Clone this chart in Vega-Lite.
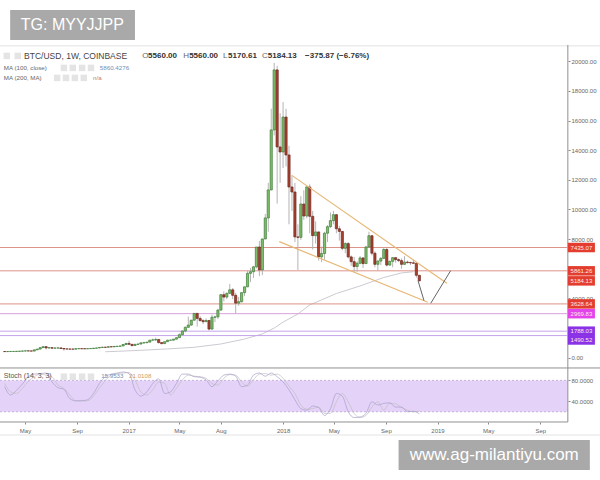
{
  "$schema": "https://vega.github.io/schema/vega-lite/v6.json",
  "width": 600,
  "height": 480,
  "padding": 0,
  "autosize": {"type": "none"},
  "background": "white",
  "view": {"stroke": null},
  "config": {"text": {"font": "Liberation Sans"}},
  "datasets": {
    "candles": [
      {"date":"2016-03-14","open":415,"high":430,"low":395,"close":410},
      {"date":"2016-03-21","open":410,"high":420,"low":400,"close":415},
      {"date":"2016-03-28","open":415,"high":425,"low":410,"close":420},
      {"date":"2016-04-04","open":420,"high":425,"low":415,"close":420},
      {"date":"2016-04-11","open":420,"high":430,"low":415,"close":430},
      {"date":"2016-04-18","open":430,"high":445,"low":425,"close":440},
      {"date":"2016-04-25","open":440,"high":470,"low":435,"close":450},
      {"date":"2016-05-02","open":450,"high":465,"low":440,"close":460},
      {"date":"2016-05-09","open":460,"high":465,"low":445,"close":455},
      {"date":"2016-05-16","open":455,"high":460,"low":435,"close":445},
      {"date":"2016-05-23","open":445,"high":535,"low":440,"close":530},
      {"date":"2016-05-30","open":530,"high":590,"low":515,"close":580},
      {"date":"2016-06-06","open":580,"high":680,"low":565,"close":680},
      {"date":"2016-06-13","open":680,"high":790,"low":660,"close":740},
      {"date":"2016-06-20","open":740,"high":780,"low":560,"close":660},
      {"date":"2016-06-27","open":660,"high":690,"low":610,"close":675},
      {"date":"2016-07-04","open":675,"high":690,"low":610,"close":640},
      {"date":"2016-07-11","open":640,"high":680,"low":630,"close":650},
      {"date":"2016-07-18","open":650,"high":680,"low":645,"close":660},
      {"date":"2016-07-25","open":660,"high":665,"low":610,"close":620},
      {"date":"2016-08-01","open":620,"high":630,"low":480,"close":590},
      {"date":"2016-08-08","open":590,"high":605,"low":580,"close":585},
      {"date":"2016-08-15","open":585,"high":590,"low":560,"close":580},
      {"date":"2016-08-22","open":580,"high":590,"low":565,"close":575},
      {"date":"2016-08-29","open":575,"high":610,"low":570,"close":605},
      {"date":"2016-09-05","open":605,"high":630,"low":600,"close":610},
      {"date":"2016-09-12","open":610,"high":615,"low":600,"close":605},
      {"date":"2016-09-19","open":605,"high":610,"low":590,"close":600},
      {"date":"2016-09-26","open":600,"high":615,"low":590,"close":610},
      {"date":"2016-10-03","open":610,"high":620,"low":605,"close":615},
      {"date":"2016-10-10","open":615,"high":645,"low":610,"close":640},
      {"date":"2016-10-17","open":640,"high":660,"low":625,"close":655},
      {"date":"2016-10-24","open":655,"high":690,"low":650,"close":690},
      {"date":"2016-10-31","open":690,"high":740,"low":680,"close":705},
      {"date":"2016-11-07","open":705,"high":720,"low":690,"close":700},
      {"date":"2016-11-14","open":700,"high":760,"low":695,"close":740},
      {"date":"2016-11-21","open":740,"high":750,"low":725,"close":730},
      {"date":"2016-11-28","open":730,"high":775,"low":725,"close":760},
      {"date":"2016-12-05","open":760,"high":780,"low":755,"close":770},
      {"date":"2016-12-12","open":770,"high":795,"low":765,"close":790},
      {"date":"2016-12-19","open":790,"high":930,"low":785,"close":890},
      {"date":"2016-12-26","open":890,"high":1000,"low":885,"close":960},
      {"date":"2017-01-02","open":960,"high":1150,"low":890,"close":900},
      {"date":"2017-01-09","open":900,"high":920,"low":750,"close":820},
      {"date":"2017-01-16","open":820,"high":930,"low":810,"close":900},
      {"date":"2017-01-23","open":900,"high":930,"low":880,"close":920},
      {"date":"2017-01-30","open":920,"high":1030,"low":910,"close":1000},
      {"date":"2017-02-06","open":1000,"high":1070,"low":950,"close":1010},
      {"date":"2017-02-13","open":1010,"high":1060,"low":980,"close":1050},
      {"date":"2017-02-20","open":1050,"high":1200,"low":1040,"close":1180},
      {"date":"2017-02-27","open":1180,"high":1290,"low":1170,"close":1200},
      {"date":"2017-03-06","open":1200,"high":1350,"low":1120,"close":1230},
      {"date":"2017-03-13","open":1230,"high":1260,"low":950,"close":1020},
      {"date":"2017-03-20","open":1020,"high":1050,"low":900,"close":950},
      {"date":"2017-03-27","open":950,"high":1100,"low":920,"close":1080},
      {"date":"2017-04-03","open":1080,"high":1210,"low":1070,"close":1180},
      {"date":"2017-04-10","open":1180,"high":1220,"low":1170,"close":1180},
      {"date":"2017-04-17","open":1180,"high":1260,"low":1170,"close":1250},
      {"date":"2017-04-24","open":1250,"high":1360,"low":1240,"close":1350},
      {"date":"2017-05-01","open":1350,"high":1640,"low":1340,"close":1550},
      {"date":"2017-05-08","open":1550,"high":1850,"low":1540,"close":1800},
      {"date":"2017-05-15","open":1800,"high":2100,"low":1720,"close":2050},
      {"date":"2017-05-22","open":2050,"high":2770,"low":2020,"close":2200},
      {"date":"2017-05-29","open":2200,"high":2550,"low":2150,"close":2530},
      {"date":"2017-06-05","open":2530,"high":3000,"low":2500,"close":2990},
      {"date":"2017-06-12","open":2990,"high":3000,"low":2100,"close":2650},
      {"date":"2017-06-19","open":2650,"high":2800,"low":2450,"close":2500},
      {"date":"2017-06-26","open":2500,"high":2600,"low":2260,"close":2430},
      {"date":"2017-07-03","open":2430,"high":2650,"low":2420,"close":2510},
      {"date":"2017-07-10","open":2510,"high":2540,"low":1840,"close":1930},
      {"date":"2017-07-17","open":1930,"high":2900,"low":1900,"close":2730},
      {"date":"2017-07-24","open":2730,"high":2830,"low":2400,"close":2750},
      {"date":"2017-07-31","open":2750,"high":3300,"low":2620,"close":3210},
      {"date":"2017-08-07","open":3210,"high":4300,"low":3190,"close":4250},
      {"date":"2017-08-14","open":4250,"high":4480,"low":3800,"close":4090},
      {"date":"2017-08-21","open":4090,"high":4400,"low":3950,"close":4340},
      {"date":"2017-08-28","open":4340,"high":4980,"low":4300,"close":4580},
      {"date":"2017-09-04","open":4580,"high":4700,"low":3950,"close":4210},
      {"date":"2017-09-11","open":4210,"high":4380,"low":2970,"close":3680},
      {"date":"2017-09-18","open":3680,"high":4100,"low":3500,"close":3780},
      {"date":"2017-09-25","open":3780,"high":4400,"low":3720,"close":4390},
      {"date":"2017-10-02","open":4390,"high":4800,"low":4150,"close":4780},
      {"date":"2017-10-09","open":4780,"high":5850,"low":4760,"close":5690},
      {"date":"2017-10-16","open":5690,"high":6050,"low":5100,"close":5800},
      {"date":"2017-10-23","open":5800,"high":6200,"low":5380,"close":6130},
      {"date":"2017-10-30","open":6130,"high":7470,"low":6030,"close":7470},
      {"date":"2017-11-06","open":7470,"high":7880,"low":5500,"close":5920},
      {"date":"2017-11-13","open":5920,"high":8050,"low":5570,"close":8010},
      {"date":"2017-11-20","open":8010,"high":9700,"low":8000,"close":9430},
      {"date":"2017-11-27","open":9430,"high":11800,"low":8500,"close":11320},
      {"date":"2017-12-04","open":11320,"high":16800,"low":11300,"close":15370},
      {"date":"2017-12-11","open":15370,"high":19890,"low":15000,"close":19420},
      {"date":"2017-12-18","open":19420,"high":19700,"low":10400,"close":14220},
      {"date":"2017-12-25","open":14220,"high":16500,"low":11800,"close":13880},
      {"date":"2018-01-01","open":13880,"high":17250,"low":12800,"close":16240},
      {"date":"2018-01-08","open":16240,"high":16800,"low":12900,"close":13680},
      {"date":"2018-01-15","open":13680,"high":14300,"low":9000,"close":11520},
      {"date":"2018-01-22","open":11520,"high":12250,"low":9900,"close":11180},
      {"date":"2018-01-29","open":11180,"high":11800,"low":7800,"close":8150},
      {"date":"2018-02-05","open":8150,"high":9000,"low":5920,"close":8120},
      {"date":"2018-02-12","open":8120,"high":10900,"low":7950,"close":10370},
      {"date":"2018-02-19","open":10370,"high":11300,"low":9300,"close":9560},
      {"date":"2018-02-26","open":9560,"high":11600,"low":9400,"close":11520},
      {"date":"2018-03-05","open":11520,"high":11700,"low":8400,"close":9540},
      {"date":"2018-03-12","open":9540,"high":9900,"low":7300,"close":8235},
      {"date":"2018-03-19","open":8235,"high":9200,"low":7700,"close":8485},
      {"date":"2018-03-26","open":8485,"high":8500,"low":6550,"close":6800},
      {"date":"2018-04-02","open":6800,"high":7500,"low":6450,"close":7030},
      {"date":"2018-04-09","open":7030,"high":8500,"low":6620,"close":8400},
      {"date":"2018-04-16","open":8400,"high":8950,"low":7800,"close":8840},
      {"date":"2018-04-23","open":8840,"high":9800,"low":8750,"close":9250},
      {"date":"2018-04-30","open":9250,"high":9900,"low":9000,"close":9650},
      {"date":"2018-05-07","open":9650,"high":9700,"low":8400,"close":8700},
      {"date":"2018-05-14","open":8700,"high":8900,"low":7900,"close":8520},
      {"date":"2018-05-21","open":8520,"high":8550,"low":7250,"close":7380},
      {"date":"2018-05-28","open":7380,"high":7800,"low":7050,"close":7700},
      {"date":"2018-06-04","open":7700,"high":7800,"low":6700,"close":6800},
      {"date":"2018-06-11","open":6800,"high":6900,"low":6200,"close":6480},
      {"date":"2018-06-18","open":6480,"high":6800,"low":5800,"close":6150},
      {"date":"2018-06-25","open":6150,"high":6500,"low":5800,"close":6370},
      {"date":"2018-07-02","open":6370,"high":6850,"low":6300,"close":6730},
      {"date":"2018-07-09","open":6730,"high":6780,"low":6050,"close":6350},
      {"date":"2018-07-16","open":6350,"high":7550,"low":6340,"close":7470},
      {"date":"2018-07-23","open":7470,"high":8500,"low":7400,"close":8230},
      {"date":"2018-07-30","open":8230,"high":8280,"low":6900,"close":7050},
      {"date":"2018-08-06","open":7050,"high":7170,"low":6100,"close":6300},
      {"date":"2018-08-13","open":6300,"high":6600,"low":5880,"close":6520},
      {"date":"2018-08-20","open":6520,"high":6800,"low":6250,"close":6700},
      {"date":"2018-08-27","open":6700,"high":7400,"low":6650,"close":7300},
      {"date":"2018-09-03","open":7300,"high":7400,"low":6150,"close":6250},
      {"date":"2018-09-10","open":6250,"high":6550,"low":6200,"close":6500},
      {"date":"2018-09-17","open":6500,"high":6800,"low":6100,"close":6750},
      {"date":"2018-09-24","open":6750,"high":6800,"low":6400,"close":6620},
      {"date":"2018-10-01","open":6620,"high":6700,"low":6450,"close":6550},
      {"date":"2018-10-08","open":6550,"high":6700,"low":6000,"close":6300},
      {"date":"2018-10-15","open":6300,"high":6850,"low":6250,"close":6450},
      {"date":"2018-10-22","open":6450,"high":6550,"low":6350,"close":6420},
      {"date":"2018-10-29","open":6420,"high":6480,"low":6250,"close":6400},
      {"date":"2018-11-05","open":6400,"high":6600,"low":6350,"close":6370},
      {"date":"2018-11-12","open":6370,"high":6400,"low":5400,"close":5560},
      {"date":"2018-11-19","open":5560,"high":5560,"low":5170,"close":5184}
    ],
    "ma": [
      {"date":"2016-11-07","value":400},
      {"date":"2016-12-05","value":430},
      {"date":"2017-01-30","value":500},
      {"date":"2017-04-03","value":590},
      {"date":"2017-06-05","value":700},
      {"date":"2017-08-07","value":925},
      {"date":"2017-10-02","value":1260},
      {"date":"2017-11-13","value":1600},
      {"date":"2017-12-11","value":2000},
      {"date":"2018-01-01","value":2400},
      {"date":"2018-02-05","value":2950},
      {"date":"2018-03-05","value":3560},
      {"date":"2018-04-02","value":3900},
      {"date":"2018-05-07","value":4330},
      {"date":"2018-07-02","value":4840},
      {"date":"2018-08-27","value":5410},
      {"date":"2018-10-08","value":5720},
      {"date":"2018-11-05","value":5800}
    ],
    "stoch": [
      {"date":"2016-03-14","k":68,"d":74},
      {"date":"2016-03-28","k":52,"d":58},
      {"date":"2016-04-11","k":61,"d":55},
      {"date":"2016-04-25","k":73,"d":65},
      {"date":"2016-05-09","k":87,"d":78},
      {"date":"2016-05-23","k":92,"d":87},
      {"date":"2016-06-06","k":93,"d":92},
      {"date":"2016-06-20","k":94,"d":90},
      {"date":"2016-07-04","k":77,"d":87},
      {"date":"2016-07-18","k":66,"d":71},
      {"date":"2016-08-01","k":63,"d":65},
      {"date":"2016-08-15","k":45,"d":52},
      {"date":"2016-08-29","k":41,"d":41},
      {"date":"2016-09-12","k":41,"d":41},
      {"date":"2016-09-26","k":43,"d":41},
      {"date":"2016-10-10","k":55,"d":50},
      {"date":"2016-10-24","k":74,"d":65},
      {"date":"2016-11-07","k":87,"d":80},
      {"date":"2016-11-21","k":92,"d":90},
      {"date":"2016-12-05","k":94,"d":93},
      {"date":"2016-12-19","k":96,"d":94},
      {"date":"2017-01-02","k":93,"d":95},
      {"date":"2017-01-16","k":62,"d":81},
      {"date":"2017-01-30","k":50,"d":58},
      {"date":"2017-02-13","k":58,"d":52},
      {"date":"2017-02-27","k":74,"d":62},
      {"date":"2017-03-13","k":83,"d":77},
      {"date":"2017-03-27","k":55,"d":74},
      {"date":"2017-04-10","k":58,"d":52},
      {"date":"2017-04-24","k":74,"d":65},
      {"date":"2017-05-08","k":92,"d":81},
      {"date":"2017-05-22","k":92,"d":90},
      {"date":"2017-06-05","k":87,"d":88},
      {"date":"2017-06-19","k":86,"d":87},
      {"date":"2017-07-03","k":81,"d":84},
      {"date":"2017-07-17","k":68,"d":74},
      {"date":"2017-07-31","k":79,"d":71},
      {"date":"2017-08-14","k":90,"d":84},
      {"date":"2017-08-28","k":92,"d":91},
      {"date":"2017-09-11","k":88,"d":90},
      {"date":"2017-09-25","k":68,"d":77},
      {"date":"2017-10-09","k":71,"d":69},
      {"date":"2017-10-23","k":90,"d":81},
      {"date":"2017-11-06","k":94,"d":92},
      {"date":"2017-11-20","k":88,"d":93},
      {"date":"2017-12-04","k":94,"d":90},
      {"date":"2017-12-18","k":87,"d":92},
      {"date":"2018-01-01","k":77,"d":84},
      {"date":"2018-01-15","k":62,"d":69},
      {"date":"2018-01-29","k":43,"d":55},
      {"date":"2018-02-12","k":26,"d":33},
      {"date":"2018-02-26","k":23,"d":25},
      {"date":"2018-03-12","k":31,"d":26},
      {"date":"2018-03-26","k":28,"d":29},
      {"date":"2018-04-09","k":13,"d":17},
      {"date":"2018-04-23","k":26,"d":17},
      {"date":"2018-05-07","k":55,"d":39},
      {"date":"2018-05-21","k":50,"d":55},
      {"date":"2018-06-04","k":20,"d":39},
      {"date":"2018-06-18","k":9,"d":17},
      {"date":"2018-07-02","k":10,"d":9},
      {"date":"2018-07-16","k":17,"d":13},
      {"date":"2018-07-30","k":39,"d":29},
      {"date":"2018-08-13","k":33,"d":39},
      {"date":"2018-08-27","k":36,"d":23},
      {"date":"2018-09-10","k":37,"d":36},
      {"date":"2018-09-24","k":29,"d":35},
      {"date":"2018-10-08","k":29,"d":28},
      {"date":"2018-10-22","k":20,"d":23},
      {"date":"2018-11-05","k":21,"d":20},
      {"date":"2018-11-19","k":16,"d":21}
    ],
    "levels": [
      {"from":"2016-03-03","to":"2019-11-05","price":7435.07,"kind":"res"},
      {"from":"2016-03-03","to":"2019-11-05","price":5861.26,"kind":"res"},
      {"from":"2016-03-03","to":"2019-11-05","price":3628.64,"kind":"res"},
      {"from":"2016-03-03","to":"2019-11-05","price":2969.83,"kind":"sup"},
      {"from":"2016-03-03","to":"2019-11-05","price":1788.03,"kind":"pur"},
      {"from":"2016-03-03","to":"2019-11-05","price":1490.52,"kind":"pur"}
    ],
    "boxes": [
      {"from":"2019-11-05","to":"2020-01-08","mid":"2019-12-07","price":7435.07,"label":"7435.07","kind":"res"},
      {"from":"2019-11-05","to":"2020-01-08","mid":"2019-12-07","price":5861.26,"label":"5861.26","kind":"res"},
      {"from":"2019-11-05","to":"2020-01-08","mid":"2019-12-07","price":5184.13,"label":"5184.13","kind":"res"},
      {"from":"2019-11-05","to":"2020-01-08","mid":"2019-12-07","price":3628.64,"label":"3628.64","kind":"res"},
      {"from":"2019-11-05","to":"2020-01-08","mid":"2019-12-07","price":2969.83,"label":"2969.83","kind":"sup"},
      {"from":"2019-11-05","to":"2020-01-08","mid":"2019-12-07","price":1788.03,"label":"1788.03","kind":"pur"},
      {"from":"2019-11-05","to":"2020-01-08","mid":"2019-12-07","price":1195,"label":"1490.52","kind":"pur"}
    ],
    "band": [
      {"from":"2016-03-03","to":"2019-11-05","upper":80,"lower":20}
    ],
    "bandEdges": [
      {"from":"2016-03-03","to":"2019-11-05","level":80},
      {"from":"2016-03-03","to":"2019-11-05","level":20}
    ],
    "trend": [
      {"x0":"2018-01-21","y0":12320,"x1":"2019-01-23","y1":5020},
      {"x0":"2017-12-23","y0":7830,"x1":"2018-12-09","y1":3740}
    ],
    "forecast": [
      {"x0":"2018-11-16","y0":5190,"x1":"2018-11-30","y1":3855},
      {"x0":"2018-12-16","y0":3670,"x1":"2019-02-01","y1":5870}
    ],
    "frame": [
      {"x0":"2016-03-03","y0":-695,"x1":"2020-01-20","y1":-695},
      {"x0":"2016-03-03","y0":-4340,"x1":"2019-11-05","y1":-4340},
      {"x0":"2019-11-05","y0":21100,"x1":"2019-11-05","y1":-4340}
    ],
    "edges": [
      {"x0":"2016-03-03","y0":21050,"x1":"2020-01-20","y1":21050},
      {"x0":"2016-03-03","y0":-5220,"x1":"2020-01-20","y1":-5220}
    ],
    "plates": [
      {"x0":"2016-03-27","y0":21445,"x1":"2017-01-16","y1":23470},
      {"x0":"2018-10-01","y0":-7580,"x1":"2019-12-27","y1":-5555}
    ],
    "headLabels": [
      {"date":"2017-02-02","label":"O"},
      {"date":"2017-05-10","label":"H"},
      {"date":"2017-08-12","label":"L"},
      {"date":"2017-11-12","label":"C"}
    ],
    "headValues": [
      {"date":"2017-02-16","label":"5560.00"},
      {"date":"2017-05-24","label":"5560.00"},
      {"date":"2017-08-24","label":"5170.61"},
      {"date":"2017-11-26","label":"5184.13"},
      {"date":"2018-02-22","label":"−375.87 (−6.76%)"}
    ],
    "small": [
      {"date":"2016-03-12","price":19555,"label":"MA (100, close)","kind":"label"},
      {"date":"2016-10-25","price":19555,"label":"5860.4276","kind":"blue"},
      {"date":"2016-03-12","price":18880,"label":"MA (200, MA)","kind":"label"},
      {"date":"2016-10-09","price":18880,"label":"n/a","kind":"red"},
      {"date":"2016-10-28","price":-1235,"label":"15.9533","kind":"blue"},
      {"date":"2017-01-02","price":-1235,"label":"21.0108","kind":"orange"}
    ],
    "icons": [
      {"date":"2016-03-19","price":20365},
      {"date":"2016-04-14","price":20365},
      {"date":"2016-08-01","price":19555},
      {"date":"2016-08-22","price":19555},
      {"date":"2016-09-13","price":19555},
      {"date":"2016-10-04","price":19555},
      {"date":"2016-07-16","price":18880},
      {"date":"2016-08-06","price":18880},
      {"date":"2016-08-27","price":18880},
      {"date":"2016-09-17","price":18880},
      {"date":"2016-08-01","price":-1283},
      {"date":"2016-08-22","price":-1283},
      {"date":"2016-09-13","price":-1283},
      {"date":"2016-10-04","price":-1283}
    ]
  },
  "encoding": {
    "x": {
      "field": "date",
      "type": "temporal",
      "scale": {"domain": ["2016-03-03", "2020-01-20"], "nice": false, "padding": 0},
      "axis": {
        "orient": "bottom",
        "offset": -58,
        "title": null,
        "domain": false,
        "grid": false,
        "values": [
          {"year":2016,"month":5,"date":1},{"year":2016,"month":9,"date":1},{"year":2017,"month":1,"date":1},
          {"year":2017,"month":5,"date":1},{"year":2017,"month":8,"date":7},{"year":2018,"month":1,"date":1},
          {"year":2018,"month":5,"date":1},{"year":2018,"month":9,"date":1},{"year":2019,"month":1,"date":1},
          {"year":2019,"month":5,"date":1},{"year":2019,"month":9,"date":1}
        ],
        "labelExpr": "month(datum.value) == 0 ? timeFormat(datum.value, '%Y') : timeFormat(datum.value, '%b')",
        "labelFont": "Liberation Sans",
        "labelFontSize": 6,
        "labelColor": "#666666",
        "labelPadding": 3,
        "tickColor": "#888888",
        "tickSize": 2,
        "labelOverlap": false,
        "labelBound": false,
        "labelFlush": false
      }
    }
  },
  "layer": [
    {
      "layer": [
        {
          "data": {"name": "band"},
          "mark": {"type": "rect", "color": "#e4d2f8"},
          "encoding": {
            "x": {"field": "from", "type": "temporal"},
            "x2": {"field": "to"},
            "y": {
              "field": "upper",
              "type": "quantitative",
              "scale": {"domain": [-110.4, 807], "nice": false, "zero": false},
              "axis": {
                "orient": "right",
                "offset": -32,
                "title": null,
                "domain": false,
                "grid": false,
                "values": [80, 40],
                "format": ".4f",
                "labelFont": "Liberation Sans",
                "labelFontSize": 6,
                "labelColor": "#666666",
                "labelPadding": 1,
                "tickColor": "#888888",
                "tickSize": 2
              }
            },
            "y2": {"field": "lower"}
          }
        },
        {
          "data": {"name": "bandEdges"},
          "mark": {"type": "rule", "color": "#a58fc8", "strokeWidth": 0.6, "strokeDash": [2, 2]},
          "encoding": {
            "x": {"field": "from", "type": "temporal"},
            "x2": {"field": "to"},
            "y": {"field": "level", "type": "quantitative"}
          }
        },
        {
          "data": {"name": "stoch"},
          "mark": {"type": "line", "color": "#c2bfbf", "strokeWidth": 0.7, "interpolate": "monotone"},
          "encoding": {"y": {"field": "d", "type": "quantitative"}}
        },
        {
          "data": {"name": "stoch"},
          "mark": {"type": "line", "color": "#a79dcc", "strokeWidth": 0.7, "interpolate": "monotone"},
          "encoding": {"y": {"field": "k", "type": "quantitative"}}
        }
      ]
    },
    {
      "layer": [
        {
          "data": {"name": "edges"},
          "mark": {"type": "rule", "color": "#ececec", "strokeWidth": 1.5},
          "encoding": {
            "x": {"field": "x0", "type": "temporal"},
            "x2": {"field": "x1"},
            "y": {
              "field": "y0",
              "type": "quantitative",
              "scale": {"domain": [-8255, 24138], "nice": false, "zero": false},
              "axis": {
                "orient": "right",
                "offset": -32,
                "title": null,
                "domain": false,
                "grid": false,
                "values": [0, 4000, 8000, 10000, 12000, 14000, 16000, 18000, 20000],
                "format": ".2f",
                "labelFont": "Liberation Sans",
                "labelFontSize": 6,
                "labelColor": "#666666",
                "labelPadding": 1,
                "tickColor": "#888888",
                "tickSize": 2
              }
            },
            "y2": {"field": "y1"}
          }
        },
        {
          "data": {"name": "frame"},
          "mark": {"type": "rule", "color": "#909090", "strokeWidth": 1},
          "encoding": {
            "x": {"field": "x0", "type": "temporal"},
            "x2": {"field": "x1"},
            "y": {"field": "y0", "type": "quantitative"},
            "y2": {"field": "y1"}
          }
        },
        {
          "data": {"name": "ma"},
          "mark": {"type": "line", "color": "#cdcad2", "strokeWidth": 1},
          "encoding": {"y": {"field": "value", "type": "quantitative"}}
        },
        {
          "data": {"name": "levels"},
          "mark": {"type": "rule", "strokeWidth": 1},
          "encoding": {
            "x": {"field": "from", "type": "temporal"},
            "x2": {"field": "to"},
            "y": {"field": "price", "type": "quantitative"},
            "color": {
              "field": "kind",
              "type": "nominal",
              "legend": null,
              "scale": {
                "domain": ["res", "sup", "pur", "label", "blue", "red", "orange"],
                "range": ["#dc9488", "#dc9fdc", "#c5a3ea", "#666666", "#6f8fb5", "#c9786f", "#d09a62"]
              }
            }
          }
        },
        {
          "data": {"name": "candles"},
          "mark": {"type": "rule", "color": "#b4b4b4", "strokeWidth": 1},
          "encoding": {
            "y": {"field": "high", "type": "quantitative"},
            "y2": {"field": "low"}
          }
        },
        {
          "data": {"name": "candles"},
          "mark": {"type": "bar", "size": 2.2, "strokeWidth": 0.7},
          "encoding": {
            "y": {"field": "open", "type": "quantitative"},
            "y2": {"field": "close"},
            "fill": {"condition": {"test": "datum.close >= datum.open", "value": "#80bd6c"}, "value": "#a8402f"},
            "stroke": {"condition": {"test": "datum.close >= datum.open", "value": "#3f7d3a"}, "value": "#6f2a20"}
          }
        },
        {
          "data": {"name": "trend"},
          "mark": {"type": "rule", "color": "#e6b877", "strokeWidth": 1.2},
          "encoding": {
            "x": {"field": "x0", "type": "temporal"},
            "x2": {"field": "x1"},
            "y": {"field": "y0", "type": "quantitative"},
            "y2": {"field": "y1"}
          }
        },
        {
          "data": {"name": "forecast"},
          "mark": {"type": "rule", "color": "#666666", "strokeWidth": 1},
          "encoding": {
            "x": {"field": "x0", "type": "temporal"},
            "x2": {"field": "x1"},
            "y": {"field": "y0", "type": "quantitative"},
            "y2": {"field": "y1"}
          }
        },
        {
          "data": {"name": "boxes"},
          "mark": {"type": "rule", "strokeWidth": 9.5},
          "encoding": {
            "x": {"field": "from", "type": "temporal"},
            "x2": {"field": "to"},
            "y": {"field": "price", "type": "quantitative"},
            "stroke": {
              "field": "kind",
              "type": "nominal",
              "legend": null,
              "scale": {"domain": ["res", "sup", "pur"], "range": ["#e23d2e", "#e243ea", "#8a32e6"]}
            }
          }
        },
        {
          "data": {"name": "boxes"},
          "mark": {"type": "text", "color": "#ffe9e6", "fontSize": 6, "baseline": "middle", "align": "center"},
          "encoding": {
            "x": {"field": "mid", "type": "temporal"},
            "y": {"field": "price", "type": "quantitative"},
            "text": {"field": "label"}
          }
        },
        {
          "data": {"values": [{"date": "2016-04-29", "price": 20330, "label": "BTC/USD, 1W, COINBASE"}]},
          "mark": {"type": "text", "color": "#444444", "fontSize": 8.5, "align": "left", "baseline": "middle"},
          "encoding": {
            "y": {"field": "price", "type": "quantitative"},
            "text": {"field": "label"}
          }
        },
        {
          "data": {"name": "headLabels"},
          "mark": {"type": "text", "color": "#666666", "fontSize": 8, "align": "left", "baseline": "middle"},
          "encoding": {
            "y": {"datum": 20330, "type": "quantitative"},
            "text": {"field": "label"}
          }
        },
        {
          "data": {"name": "headValues"},
          "mark": {"type": "text", "color": "#333333", "fontSize": 8, "fontWeight": "bold", "align": "left", "baseline": "middle"},
          "encoding": {
            "y": {"datum": 20330, "type": "quantitative"},
            "text": {"field": "label"}
          }
        },
        {
          "data": {"name": "icons"},
          "mark": {"type": "point", "shape": "square", "filled": true, "size": 42, "color": "#e4e4e4", "opacity": 1},
          "encoding": {"y": {"field": "price", "type": "quantitative"}}
        },
        {
          "data": {"name": "small"},
          "mark": {"type": "text", "fontSize": 6.2, "align": "left", "baseline": "middle"},
          "encoding": {
            "y": {"field": "price", "type": "quantitative"},
            "text": {"field": "label"},
            "color": {"field": "kind", "type": "nominal", "legend": null}
          }
        },
        {
          "data": {"values": [{"date": "2016-03-12", "price": -1235, "label": "Stoch (14, 3, 3)"}]},
          "mark": {"type": "text", "color": "#555555", "fontSize": 7, "align": "left", "baseline": "middle"},
          "encoding": {
            "y": {"field": "price", "type": "quantitative"},
            "text": {"field": "label"}
          }
        },
        {
          "data": {"name": "plates"},
          "mark": {"type": "rect", "color": "#a9a9a9"},
          "encoding": {
            "x": {"field": "x0", "type": "temporal"},
            "x2": {"field": "x1"},
            "y": {"field": "y0", "type": "quantitative"},
            "y2": {"field": "y1"}
          }
        },
        {
          "data": {"values": [{"date": "2016-08-21", "price": 22460, "label": "TG: MYYJJPP"}]},
          "mark": {"type": "text", "color": "#ffffff", "fontSize": 16, "align": "center", "baseline": "middle"},
          "encoding": {
            "y": {"field": "price", "type": "quantitative"},
            "text": {"field": "label"}
          }
        },
        {
          "data": {"values": [{"date": "2019-05-15", "price": -6568, "label": "www.ag-milantiyu.com"}]},
          "mark": {"type": "text", "color": "#ffffff", "fontSize": 17, "align": "center", "baseline": "middle"},
          "encoding": {
            "y": {"field": "price", "type": "quantitative"},
            "text": {"field": "label"}
          }
        }
      ]
    }
  ],
  "resolve": {"scale": {"y": "independent"}}
}
